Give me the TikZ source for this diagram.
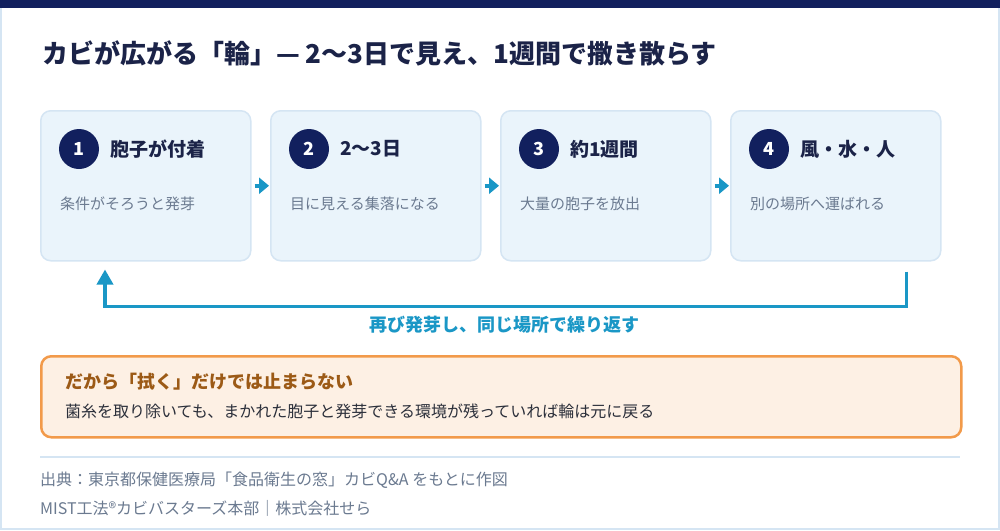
\documentclass[tikz,border=0pt]{standalone}
\usepackage{fontspec}
\setmainfont{Noto Sans CJK JP}
\usetikzlibrary{arrows.meta}
\definecolor{navy}{HTML}{12205E}
\definecolor{ink}{HTML}{1B2348}
\definecolor{muted}{HTML}{6B7A90}
\definecolor{cardfill}{HTML}{EAF4FB}
\definecolor{cardline}{HTML}{D5E5F3}
\definecolor{teal}{HTML}{1A97C6}
\definecolor{warnfill}{HTML}{FDF0E4}
\definecolor{warnline}{HTML}{F29A4A}
\definecolor{brown}{HTML}{9C5A16}
\definecolor{body}{HTML}{2B2F3A}
\newcommand{\fs}[1]{\fontsize{#1}{#1}\selectfont}

\begin{document}
\begin{tikzpicture}[x=1pt,y=-1pt]
\tikzstyle{card}=[draw=cardline,line width=1.5pt,fill=cardfill,rounded corners=10pt,minimum width=210pt,minimum height=150pt,anchor=north west,inner sep=0pt]
\tikzstyle{num}=[circle,fill=navy,text=white,font=\bfseries\fs{18},minimum size=40pt,inner sep=0pt]
\tikzstyle{head}=[anchor=west,text=ink,font=\bfseries\fs{19},inner sep=0pt]
\tikzstyle{sub}=[anchor=west,text=muted,font=\fs{15},inner sep=0pt]
\tikzstyle{next}=[draw=teal,line width=4pt,-{Triangle[length=10pt,width=16pt]}]
\useasboundingbox (0,0) rectangle (1000,530);
\fill[white] (0,0) rectangle (1000,530);
\draw[cardline,line width=2pt] (1,8) -- (1,529) -- (999,529) -- (999,8);
\fill[navy] (0,0) rectangle (1000,8);
\path (42,53) node[anchor=west,text=ink,font=\bfseries\fs{26},inner sep=0pt](title){カビが広がる「輪」— 2〜3日で見え、1週間で撒き散らす};
% cards
\path (40,110) node[card](b1){} (270,110) node[card](b2){}
      (500,110) node[card](b3){} (730,110) node[card](b4){};
\path (79,149) node[num](n1){1} (309,149) node[num](n2){2}
      (539,149) node[num](n3){3} (769,149) node[num](n4){4};
\path (110,149) node[head](h1){胞子が付着} (340,149) node[head](h2){2〜3日}
      (570,149) node[head](h3){約1週間} (800,149) node[head](h4){風・水・人};
\path (60,204) node[sub](s1){条件がそろうと発芽} (290,204) node[sub](s2){目に見える集落になる}
      (520,204) node[sub](s3){大量の胞子を放出} (750,204) node[sub](s4){別の場所へ運ばれる};
\draw[next] ([xshift=3pt]b1.east) -- ([xshift=-1pt]b2.west);
\draw[next] ([xshift=3pt]b2.east) -- ([xshift=-1pt]b3.west);
\draw[next] ([xshift=3pt]b3.east) -- ([xshift=-1pt]b4.west);
% back to the start
\draw[teal,line width=3.5pt,-{Triangle[length=15pt,width=16pt]}] ([shift={(-35,10)}]b4.south east) -- ++(0,35) -| ([shift={(65,8)}]b1.south west);
\path (504,325) node[text=teal,font=\bfseries\fs{18},inner sep=0pt](back){再び発芽し、同じ場所で繰り返す};
% note
\path (40,355) node[draw=warnline,line width=2.5pt,fill=warnfill,rounded corners=10pt,minimum width=920pt,minimum height=81pt,anchor=north west](warn){};
\path (65,382) node[anchor=west,text=brown,font=\bfseries\fs{18},inner sep=0pt](w1){だから「拭く」だけでは止まらない};
\path (65,411) node[anchor=west,text=body,font=\fs{16},inner sep=0pt](w2){菌糸を取り除いても、まかれた胞子と発芽できる環境が残っていれば輪は元に戻る};
\draw[cardline,line width=2pt] (40,457) -- (960,457);
\path (40,480) node[anchor=west,text=muted,font=\fs{16},inner sep=0pt](src){出典：東京都保健医療局「食品衛生の窓」カビQ\&A をもとに作図};
\path (40,508) node[anchor=west,text=muted,font=\fs{16},inner sep=0pt](org){MIST工法®カビバスターズ本部｜株式会社せら};
\end{tikzpicture}
\end{document}
